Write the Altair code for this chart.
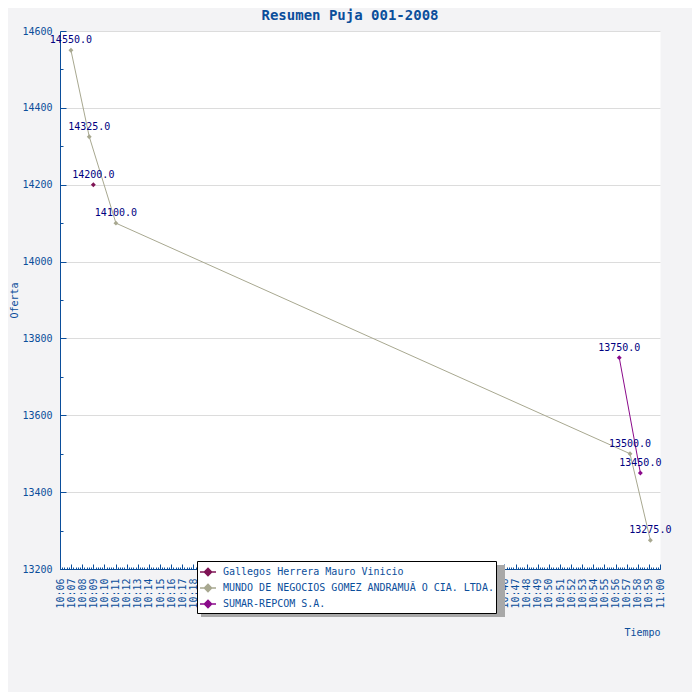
import altair as alt
import pandas as pd
import numpy as np

# ---------------- data ----------------
series_names = [
    "Gallegos Herrera Mauro Vinicio",
    "MUNDO DE NEGOCIOS GOMEZ ANDRAMUÃ O CIA. LTDA.",
    "SUMAR-REPCOM S.A.",
]
series_colors = ["#7f1455", "#a8a890", "#8b0a8b"]

gallegos_times = ["10:09:00"]
gallegos_offers = [14200]

mundo_times = ["10:06:59", "10:08:38", "10:11:02", "10:57:18", "10:59:08"]
mundo_offers = [14550, 14325, 14100, 13500, 13275]

sumar_times = ["10:56:20", "10:58:14"]
sumar_offers = [13750, 13450]

y_major = [13200, 13400, 13600, 13800, 14000, 14200, 14400, 14600]
y_minor = [13300, 13500, 13700, 13900, 14100, 14300, 14500]
x_major = list(range(6, 61))                      # 10:06 ... 11:00 (minutes after 10:00)
x_minor = [round(v, 1) for v in np.arange(6, 60.01, 0.2)]

# ---------------- styling ----------------
MONO = "DejaVu Sans Mono"
BLUE = "#0b4e9b"
NAVY = "#000080"


def to_minutes(t):
    h, m, s = (int(p) for p in t.split(":"))
    return (h - 10) * 60 + m + s / 60.0


rows = []
for name, times, offers in [
    (series_names[0], gallegos_times, gallegos_offers),
    (series_names[1], mundo_times, mundo_offers),
    (series_names[2], sumar_times, sumar_offers),
]:
    for t, o in zip(times, offers):
        rows.append({"series": name, "time": t, "minute": to_minutes(t), "offer": o})
df = pd.DataFrame(rows)

xscale = alt.Scale(domain=[6, 60], nice=False, zero=False)
yscale = alt.Scale(domain=[13200, 14600], nice=False, zero=False)
cscale = alt.Scale(domain=series_names, range=series_colors)

legend = alt.Legend(
    orient="none", legendX=137, legendY=530, title=None,
    fillColor="white", strokeColor="black", padding=2,
    labelFont=MONO, labelFontSize=10, labelColor=BLUE, labelLimit=500,
    labelOffset=6, rowPadding=0,
    symbolType="M-1,0L1,0M0,-0.45L0.45,0L0,0.45L-0.45,0Z",
    symbolSize=256, symbolStrokeWidth=1.5,
)

label_expr = ("(10 + floor(datum.value / 60)) + ':' + "
              "(datum.value % 60 < 10 ? '0' : '') + (datum.value % 60)")

# main axes on the line layer
lines = alt.Chart(df).mark_line(strokeWidth=1).encode(
    x=alt.X("minute:Q", scale=xscale, axis=alt.Axis(
        orient="bottom", values=x_major, labelExpr=label_expr, labelAngle=270,
        labelFont=MONO, labelFontSize=10, labelColor=BLUE, labelOverlap=False,
        labelFlush=False, labelPadding=9, ticks=False, grid=False,
        domainColor=BLUE, domainWidth=1,
        title="Tiempo", titleFont=MONO, titleFontSize=10, titleFontWeight="normal",
        titleColor=BLUE, titleX=582, titleY=63, titleAlign="center",
        titleBaseline="middle", titleAngle=0)),
    y=alt.Y("offer:Q", scale=yscale, axis=alt.Axis(
        orient="left", values=y_major, format="d",
        labelFont=MONO, labelFontSize=10, labelColor=BLUE, labelPadding=8,
        ticks=False, grid=True, gridColor="#dcdcdc", gridWidth=1,
        domainColor=BLUE, domainWidth=1,
        title="Oferta", titleFont=MONO, titleFontSize=10, titleFontWeight="normal",
        titleColor=BLUE, titleX=-46, titleY=269, titleAlign="center",
        titleBaseline="middle", titleAngle=270)),
    color=alt.Color("series:N", scale=cscale, legend=legend),
    detail="series:N",
)

# points carry the inward major ticks
points = alt.Chart(df).mark_point(shape="diamond", filled=True, size=24, opacity=1).encode(
    x=alt.X("minute:Q", scale=xscale, axis=alt.Axis(
        orient="bottom", values=x_major, offset=-5, tickSize=5, tickColor=BLUE,
        labels=False, domain=False, grid=False, title=None)),
    y=alt.Y("offer:Q", scale=yscale, axis=alt.Axis(
        orient="left", values=y_major, offset=-6, tickSize=6, tickColor=BLUE,
        labels=False, domain=False, grid=False, title=None)),
    color=alt.Color("series:N", scale=cscale, legend=legend),
)

# value labels carry the inward minor ticks
labels = alt.Chart(df).mark_text(
    font=MONO, fontSize=10, color=NAVY, dy=-10, align="center", baseline="middle"
).encode(
    x=alt.X("minute:Q", scale=xscale, axis=alt.Axis(
        orient="bottom", values=x_minor, offset=-2, tickSize=2, tickColor=BLUE,
        labels=False, domain=False, grid=False, title=None)),
    y=alt.Y("offer:Q", scale=yscale, axis=alt.Axis(
        orient="left", values=y_minor, offset=-3, tickSize=3, tickColor=BLUE,
        labels=False, domain=False, grid=False, title=None)),
    text=alt.Text("offer:Q", format=".1f"),
)

# legend shadow (decoration)
shadow = alt.Chart(df).mark_rect(color="#a8a8a8").encode(
    x=alt.value(141), x2=alt.value(445), y=alt.value(534), y2=alt.value(586))

chart = alt.layer(shadow, lines, points, labels).resolve_axis(
    x="independent", y="independent"
).properties(
    width=600, height=538,
    autosize=alt.AutoSizeParams(type="none"),
    padding={"left": 52, "top": 23, "right": 32, "bottom": 123},
    background="#f3f3f5",
    title=alt.Title("Resumen Puja 001-2008", font=MONO, fontSize=14, fontWeight="bold",
                    color=BLUE, anchor="middle", dx=-10, offset=3),
).configure_view(fill="white", strokeOpacity=0)

chart.save("out.html", embed_options={"renderer": "svg", "actions": False})
